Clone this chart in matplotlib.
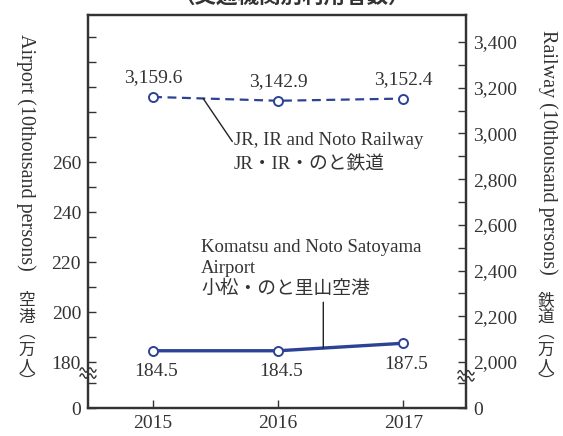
import numpy as np
import matplotlib
matplotlib.use("Agg")
import matplotlib.pyplot as plt
from matplotlib.transforms import IdentityTransform

# data
years = [2015, 2016, 2017]
railway = [3159.6, 3142.9, 3152.4]
airport = [184.5, 184.5, 187.5]
railway_labels = ["3,159.6", "3,142.9", "3,152.4"]
airport_labels = ["184.5", "184.5", "187.5"]

left_ticks = [161.6, 180, 200, 220, 240, 260]
left_ticklabels = ["0", "180", "200", "220", "240", "260"]
left_minor = [171.6, 190, 210, 230, 250, 270, 280, 290, 300, 310]
right_ticks = [1799, 2000, 2200, 2400, 2600, 2800, 3000, 3200, 3400]
right_ticklabels = ["0", "2,000", "2,200", "2,400", "2,600", "2,800", "3,000", "3,200", "3,400"]
right_minor = [1908, 2100, 2300, 2500, 2700, 2900, 3100, 3300]

LINE = "#2b4295"
TXT = "#333333"
SERIF = ["Liberation Serif", "Noto Sans CJK JP"]
plt.rcParams["font.family"] = SERIF

fig = plt.figure(figsize=(5.63, 4.36), dpi=100)
ax = fig.add_axes([0.1563, 0.0642, 0.6714, 0.9014])
ax2 = ax.twinx()

ax.set_xlim(2014.48, 2017.5)
ax.set_ylim(161.6, 318.8)
ax2.set_ylim(1799, 3518)

# airport (left axis), railway (right axis)
ax.plot(years, airport, color=LINE, lw=2.4, marker="o", ms=6.5,
        mfc="white", mec=LINE, mew=1.4, zorder=3)
ax2.plot(years, railway, color=LINE, lw=1.6, ls=(0, (4, 2.5)), marker="o", ms=6.5,
         mfc="white", mec=LINE, mew=1.4, zorder=3)

for x, y, s in zip(years, railway, railway_labels):
    ax2.annotate(s, (x, y), xytext=(0, 14), textcoords="offset points",
                 ha="center", va="center", fontsize=14, color=TXT)
for x, y, s in zip(years, airport, airport_labels):
    ax.annotate(s, (x, y), xytext=(2, -15), textcoords="offset points",
                ha="center", va="center", fontsize=14, color=TXT)

# leader lines and series names
rx = 2015.4
ry = np.interp(rx, years, railway)
ax2.annotate("", xy=(rx, ry), xytext=(21, -31), textcoords="offset points",
             arrowprops=dict(arrowstyle="-", color="#222222", lw=1.0,
                             shrinkA=0, shrinkB=0))
ax2.annotate("JR, IR and Noto Railway\nJR・IR・のと鉄道", xy=(rx, ry),
             xytext=(22, -24), textcoords="offset points", ha="left", va="top",
             fontsize=13.5, color=TXT, linespacing=1.5)

axx = 2016.36
axy = np.interp(axx, years, airport)
ax.annotate("", xy=(axx, axy), xytext=(0, 33), textcoords="offset points",
            arrowprops=dict(arrowstyle="-", color="#222222", lw=1.0,
                            shrinkA=0, shrinkB=0))
ax.annotate("Komatsu and Noto Satoyama\nAirport\n小松・のと里山空港", xy=(axx, axy),
            xytext=(-88, 36), textcoords="offset points", ha="left", va="bottom",
            fontsize=13.5, color=TXT, linespacing=1.3)

# ticks and spines
ax.set_xticks(years)
ax.set_xticklabels([str(y) for y in years])
ax.set_yticks(left_ticks)
ax.set_yticklabels(left_ticklabels)
ax.set_yticks(left_minor, minor=True)
ax2.set_yticks(right_ticks)
ax2.set_yticklabels(right_ticklabels)
ax2.set_yticks(right_minor, minor=True)

for a in (ax, ax2):
    a.tick_params(which="both", direction="in", length=6, width=1.0,
                  color=TXT, labelsize=14, labelcolor=TXT, pad=5)
    for sp in a.spines.values():
        sp.set_color(TXT)
        sp.set_linewidth(1.6)

# axis break marks
fig.canvas.draw()
t = np.linspace(-8, 8, 40)
wave = 2.2 * np.sin(t / 8 * 2 * np.pi)
for xa, ya in ((0, 0.089), (1, 0.082)):
    cx, cy = ax.transAxes.transform((xa, ya))
    ax.fill_between(cx + t, cy + wave - 3, cy + wave + 3, color="white",
                    transform=IdentityTransform(), clip_on=False, zorder=5)
    for off in (-3, 3):
        ax.plot(cx + t, cy + wave + off, color=TXT, lw=1.0,
                transform=IdentityTransform(), clip_on=False, zorder=6)

# axis titles
fig.text(0.046, 0.651, "Airport (10thousand persons)", rotation=-90,
         ha="center", va="center", fontsize=14.5, color=TXT)
fig.text(0.974, 0.651, "Railway (10thousand persons)", rotation=-90,
         ha="center", va="center", fontsize=14.5, color=TXT)
fig.text(0.048, 0.216, "空\n港\n︵\n万\n人\n︶", ha="center", va="center",
         fontsize=12, color=TXT, linespacing=0.95, family="Noto Sans CJK JP")
fig.text(0.970, 0.216, "鉄\n道\n︵\n万\n人\n︶", ha="center", va="center",
         fontsize=12, color=TXT, linespacing=0.95, family="Noto Sans CJK JP")

fig.text(0.519, 1.008, "（交通機関別利用者数）", ha="center", va="center",
         fontsize=15.5, fontweight="bold", color=TXT, family="Noto Sans CJK JP")

fig.savefig("out.png", dpi=100)
